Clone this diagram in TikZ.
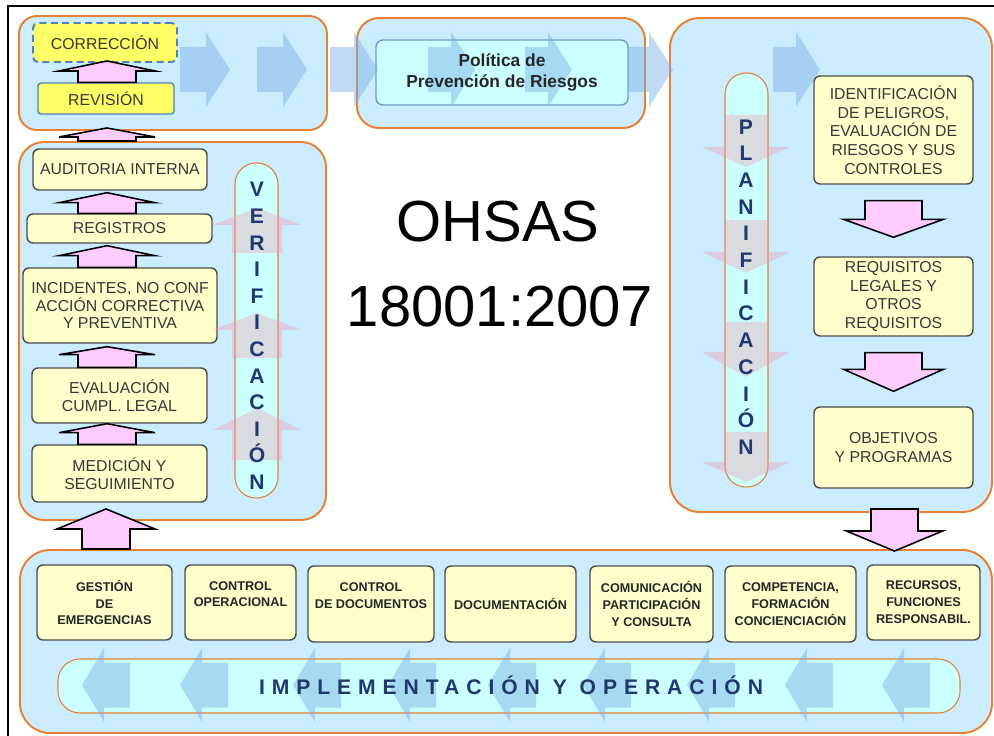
\documentclass[tikz,border=0pt]{standalone}
\usepackage{fontspec}
\setmainfont{Liberation Sans}
\usetikzlibrary{calc}
\definecolor{boxblue}{RGB}{204,236,255}
\definecolor{orng}{RGB}{232,128,48}
\definecolor{pillcyan}{RGB}{204,255,255}
\definecolor{lyellow}{RGB}{255,255,204}
\definecolor{yell}{RGB}{255,255,102}
\definecolor{bborder}{RGB}{79,129,189}
\definecolor{pinkf}{RGB}{255,204,255}
\definecolor{fpink}{RGB}{245,150,170}
\definecolor{fblue}{RGB}{120,175,230}
\definecolor{ltxt}{RGB}{55,55,55}
\definecolor{navy}{RGB}{32,56,110}
% block arrow: #1 style, #2 tail, #3 tip, #4 shaft half (px), #5 head half (px), #6 head length (px)
\newcommand\blockarrow[6]{%
  \coordinate (hb) at ($(#3)!#6*0.02cm!(#2)$);
  \path[#1] ($(#2)!#4*0.02cm!90:(#3)$) -- ($(hb)!#4*0.02cm!90:(#3)$) -- ($(hb)!#5*0.02cm!90:(#3)$) -- (#3)
    -- ($(hb)!#5*0.02cm!-90:(#3)$) -- ($(hb)!#4*0.02cm!-90:(#3)$) -- ($(#2)!#4*0.02cm!-90:(#3)$) -- cycle;}
\begin{document}
\begin{tikzpicture}[x=0.02cm,y=-0.02cm,
 wpx/.style={minimum width=#1*0.02cm},
 hpx/.style={minimum height=#1*0.02cm},
 bigbox/.style={draw=orng,line width=1.1pt,fill=boxblue,rounded corners=#1,inner sep=0pt},
 ybox/.style={draw=black!70,line width=0.8pt,fill=lyellow,rounded corners=0.12cm,inner sep=0pt,align=center,text=ltxt,font=\fontsize{9}{10.2}\selectfont},
 rbx/.style={ybox,font=\fontsize{9}{10.6}\selectfont},
 bbx/.style={ybox,font=\bfseries\fontsize{7.2}{9.6}\selectfont,text=black!85},
 pill/.style={draw=orng,line width=0.6pt,fill=pillcyan,rounded corners=0.42cm,inner sep=0pt},
 pilltxt/.style={text=navy,align=center,inner sep=0pt},
 pinkarr/.style={fill=pinkf,draw=black,line width=0.9pt,line join=miter},
 fpinkarr/.style={fill=fpink,fill opacity=0.35},
 fbluearr/.style={fill=fblue,fill opacity=0.45},
]
\useasboundingbox (0,0) rectangle (994,736);
\fill[white] (0,0) rectangle (994,736);
\draw[line width=1.2pt] (8,736) -- (8,6) -- (994,6);

% big containers
\node[bigbox=0.36cm,wpx=308,hpx=114] (tl) at (173,73) {};
\node[bigbox=0.44cm,wpx=288,hpx=110] (polo) at (501,73) {};
\node[bigbox=0.6cm,wpx=322,hpx=494] (rb) at (831,265) {};
\node[bigbox=0.5cm,wpx=307,hpx=378] (vb) at (172.5,331) {};
\node[bigbox=0.6cm,wpx=972,hpx=183] (bb) at (506,641.5) {};

% title
\node[font=\fontsize{33}{40}\selectfont] (oh1) at (498,222) {OHSAS};
\node[font=\fontsize{33}{40}\selectfont] (oh2) at (500,307) {18001:2007};

% top-left
\node[ybox,fill=yell,draw=bborder,dash pattern=on 4pt off 2.5pt,line width=1.1pt,wpx=144,hpx=39,rounded corners=0.1cm] (corr) at (105,42.5) {CORRECCIÓN};
\node[ybox,fill=yell,draw=bborder,line width=0.8pt,wpx=136,hpx=31,rounded corners=0.06cm] (rev) at (106,98.5) {REVISIÓN};
% politica
\node[draw=bborder!80,line width=0.8pt,fill=pillcyan,rounded corners=0.14cm,wpx=252,hpx=65] (pol) at (502,72.5) {};

% verification column
\node[ybox,wpx=174,hpx=41] (aud) at (120,169.5) {AUDITORIA INTERNA};
\node[ybox,wpx=185,hpx=29] (reg) at (119.5,228.5) {REGISTROS};
\node[ybox,wpx=194,hpx=75] (inc) at (120,305.5) {INCIDENTES, NO CONF\\ACCIÓN CORRECTIVA\\Y PREVENTIVA};
\node[ybox,wpx=175,hpx=55] (eva) at (119.5,395.5) {EVALUACIÓN\\CUMPL. LEGAL};
\node[ybox,wpx=175,hpx=57] (med) at (119.5,473.5) {MEDICIÓN Y\\SEGUIMIENTO};

% pills
\node[pill,wpx=43,hpx=335] (vp) at (256.5,330.5) {};
\node[pill,wpx=43,hpx=414] (pp) at (746.5,280) {};

% planning column
\node[rbx,wpx=159,hpx=108] (ident) at (893.5,130) {IDENTIFICACIÓN\\DE PELIGROS,\\EVALUACIÓN DE\\RIESGOS Y SUS\\CONTROLES};
\node[rbx,wpx=159,hpx=79] (req) at (893.5,296.5) {REQUISITOS\\LEGALES Y\\OTROS\\REQUISITOS};
\node[rbx,wpx=159,hpx=81] (obj) at (893.5,447.5) {OBJETIVOS\\Y PROGRAMAS};

% implementation row
\node[bbx,wpx=135,hpx=75] (b1) at (104.5,602.5) {GESTIÓN\\DE\\EMERGENCIAS};
\node[bbx,wpx=111,hpx=75] (b2) at (240.5,602.5) {CONTROL\\OPERACIONAL\\\mbox{}};
\node[bbx,wpx=126,hpx=76] (b3) at (371,604) {CONTROL\\DE DOCUMENTOS\\\mbox{}};
\node[bbx,wpx=131,hpx=76] (b4) at (510.5,604) {DOCUMENTACIÓN};
\node[bbx,wpx=123,hpx=76] (b5) at (651.5,604) {COMUNICACIÓN\\PARTICIPACIÓN\\Y CONSULTA};
\node[bbx,wpx=131,hpx=76] (b6) at (790.5,604) {COMPETENCIA,\\FORMACIÓN\\CONCIENCIACIÓN};
\node[bbx,wpx=113,hpx=75] (b7) at (923.5,602.5) {RECURSOS,\\FUNCIONES\\RESPONSABIL.};
\node[pill,rounded corners=0.44cm,wpx=902,hpx=54] (ip) at (509,686) {};

% faint flow arrows
\foreach \t/\p in {180/230,257/307,330/378,428/475,525/572,628/673,773/820}
  {\blockarrow{fbluearr}{\t,69.5}{\p,69.5}{22.5}{37.5}{24}}
\foreach \p in {82,180,293,388,488,583,687,785,882}
  {\blockarrow{fbluearr}{\p+48,685}{\p,685}{22.5}{37}{22}}
\blockarrow{fpinkarr}{257,253}{257,208}{25}{44.5}{17}
\blockarrow{fpinkarr}{257,358}{257,313}{25}{44.5}{17}
\blockarrow{fpinkarr}{257,460}{257,408}{25}{44.5}{22}
\blockarrow{fpinkarr}{746,115}{746,167}{22}{44}{20}
\blockarrow{fpinkarr}{746,220}{746,273}{22}{44}{21}
\blockarrow{fpinkarr}{746,322}{746,377}{22}{44}{25}
\blockarrow{fpinkarr}{746,432}{746,482}{22}{44}{20}

% texts over arrows
\node[pilltxt,font=\bfseries\fontsize{12}{15.14}\selectfont] (vt) at (257,336) {V\\E\\R\\I\\F\\I\\C\\A\\C\\I\\Ó\\N};
\node[pilltxt,font=\bfseries\fontsize{12}{15.2}\selectfont] (pt) at (746,287) {P\\L\\A\\N\\I\\F\\I\\C\\A\\C\\I\\Ó\\N};
\node[font=\bfseries\fontsize{9.9}{11.9}\selectfont,align=center,text=black!85] (polt) at (pol.center) {Política de\\Prevención de Riesgos};
\node[font=\bfseries\fontsize{12}{14}\selectfont\addfontfeature{LetterSpace=33},text=navy] (it) at (511,685) {IMPLEMENTACIÓN Y OPERACIÓN};

% pink connector arrows
\coordinate (axL) at (107,0);
\coordinate (axB) at (106,0);
\coordinate (axR) at (893.5,0);
\coordinate (axR2) at (894.5,0);
\coordinate (l0s) at (rev.north -| axL);
\coordinate (l0e) at ($(corr.south -| axL)+(0,-2)$);
\coordinate (l1s) at (vb.north -| axL);
\coordinate (l1e) at ($(tl.south -| axL)+(0,-3)$);
\coordinate (l2s) at (reg.north -| axL);
\coordinate (l2e) at ($(aud.south -| axL)+(0,2)$);
\coordinate (l3s) at (inc.north -| axL);
\coordinate (l3e) at ($(reg.south -| axL)+(0,2)$);
\coordinate (l4s) at (eva.north -| axL);
\coordinate (l4e) at ($(inc.south -| axL)+(0,3)$);
\coordinate (l5s) at (med.north -| axL);
\coordinate (l5e) at (eva.south -| axL);
\coordinate (bgs) at (bb.north -| axB);
\coordinate (bge) at ($(vb.south -| axB)+(0,-12)$);
\coordinate (r1s) at ($(ident.south -| axR)+(0,16)$);
\coordinate (r1e) at ($(req.north -| axR)+(0,-19)$);
\coordinate (r2s) at ($(req.south -| axR)+(0,16)$);
\coordinate (r2e) at ($(obj.north -| axR)+(0,-15)$);
\coordinate (r3s) at ($(rb.south -| axR2)+(0,-4)$);
\coordinate (r3e) at ($(bb.north -| axR2)+(0,2)$);
\blockarrow{pinkarr}{l0s}{l0e}{29}{48}{10}
\blockarrow{pinkarr}{l1s}{l1e}{29}{48}{9}
\blockarrow{pinkarr}{l2s}{l2e}{29}{48}{10}
\blockarrow{pinkarr}{l3s}{l3e}{29}{48}{10}
\blockarrow{pinkarr}{l4s}{l4e}{29}{48}{8}
\blockarrow{pinkarr}{l5s}{l5e}{29}{48}{9}
\blockarrow{pinkarr}{bgs}{bge}{24}{49}{20}
\blockarrow{pinkarr}{r1s}{r1e}{28.5}{50}{18}
\blockarrow{pinkarr}{r2s}{r2e}{28.5}{50}{22}
\blockarrow{pinkarr}{r3s}{r3e}{23.5}{48}{20}
\end{tikzpicture}
\end{document}
